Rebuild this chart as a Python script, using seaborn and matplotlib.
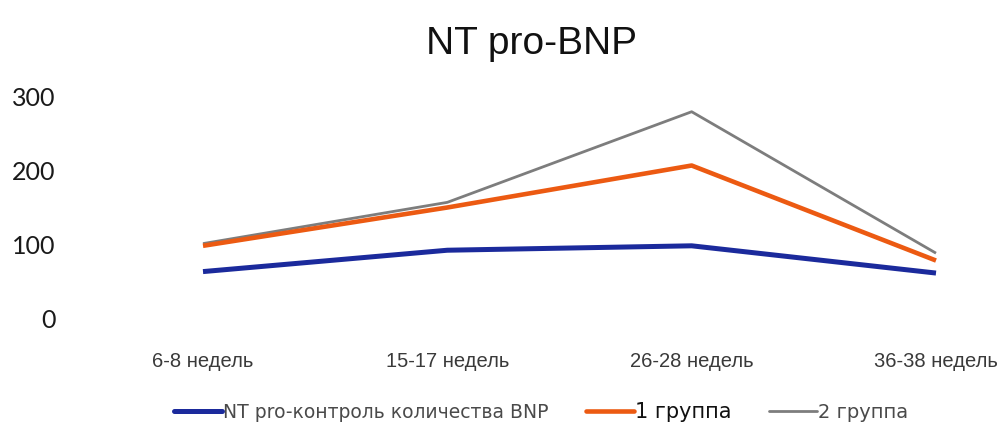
import matplotlib
matplotlib.use("Agg")
import matplotlib.pyplot as plt
import seaborn as sns
import pandas as pd

# Gestational periods and NT pro-BNP levels per group
periods = ["6-8 недель", "15-17 недель", "26-28 недель", "36-38 недель"]
control = [63, 92, 98, 61]
group1 = [98, 150, 207, 78]
group2 = [101, 157, 280, 88]
series_names = ["NT pro-контроль количества BNP", "1 группа", "2 группа"]
y_ticks = [0, 100, 200, 300]

sns.set_theme(style="white")
plt.rcParams["font.family"] = ["Liberation Sans", "DejaVu Sans"]

rows = []
for name, vals in zip(series_names, [control, group1, group2]):
    for i, (p, v) in enumerate(zip(periods, vals)):
        rows.append({"pos": i, "period": p, "value": v, "series": name})
df = pd.DataFrame(rows)

palette = {series_names[0]: "#1b2a9c", series_names[1]: "#ec5a12", series_names[2]: "#7d7d7d"}
widths = {series_names[0]: 3.6, series_names[1]: 3.3, series_names[2]: 2.0}

fig = plt.figure(figsize=(10.06, 4.36), dpi=100)
ax = fig.add_axes([75 / 1006, 1 - 330 / 436, 925 / 1006, 250 / 436])

# grey first, then orange, then blue on top
for name in [series_names[2], series_names[1], series_names[0]]:
    sns.lineplot(data=df[df["series"] == name], x="pos", y="value", color=palette[name],
                 linewidth=widths[name], ax=ax, sort=False, label=name, legend=False,
                 solid_capstyle="butt")

unit = (936 - 203) / 3
ax.set_xlim((75 - 203) / unit, (1000 - 203) / unit)
yu = (318 - 97) / 300
ax.set_ylim(-(330 - 318) / yu, (318 - 80) / yu)

ax.set_xticks(range(len(periods)))
ax.set_xticklabels(periods, fontsize=14.5, color="#3a3a3a")
ax.set_yticks(y_ticks)
ax.set_yticklabels([str(t) for t in y_ticks], fontsize=18, color="#1a1a1a",
                   family=["Lato", "DejaVu Sans"])
ax.tick_params(axis="x", length=0, pad=16)
ax.tick_params(axis="y", length=0, pad=14)
ax.set_xlabel("")
ax.set_ylabel("")
for s in ax.spines.values():
    s.set_visible(False)
ax.grid(False)

fig.text(532 / 1006, 1 - 44 / 436, "NT pro-BNP", ha="center", va="center",
         fontsize=28, color="#111111")

handles = [plt.Line2D([], [], color=palette[n], linewidth=widths[n]) for n in series_names]
leg = fig.legend(handles, series_names, loc="center", bbox_to_anchor=(541 / 1006, 1 - 412 / 436),
                 ncol=3, frameon=False, handlelength=2.55, handletextpad=0.05,
                 columnspacing=2.0,
                 prop={"family": ["DejaVu Sans"], "size": 13.5})
for t in leg.get_texts():
    t.set_color("#4a4a4a")
leg.get_texts()[1].set_fontsize(15)
leg.get_texts()[1].set_color("#111111")
leg.get_texts()[2].set_fontsize(14)

fig.savefig("out.png", dpi=100)
